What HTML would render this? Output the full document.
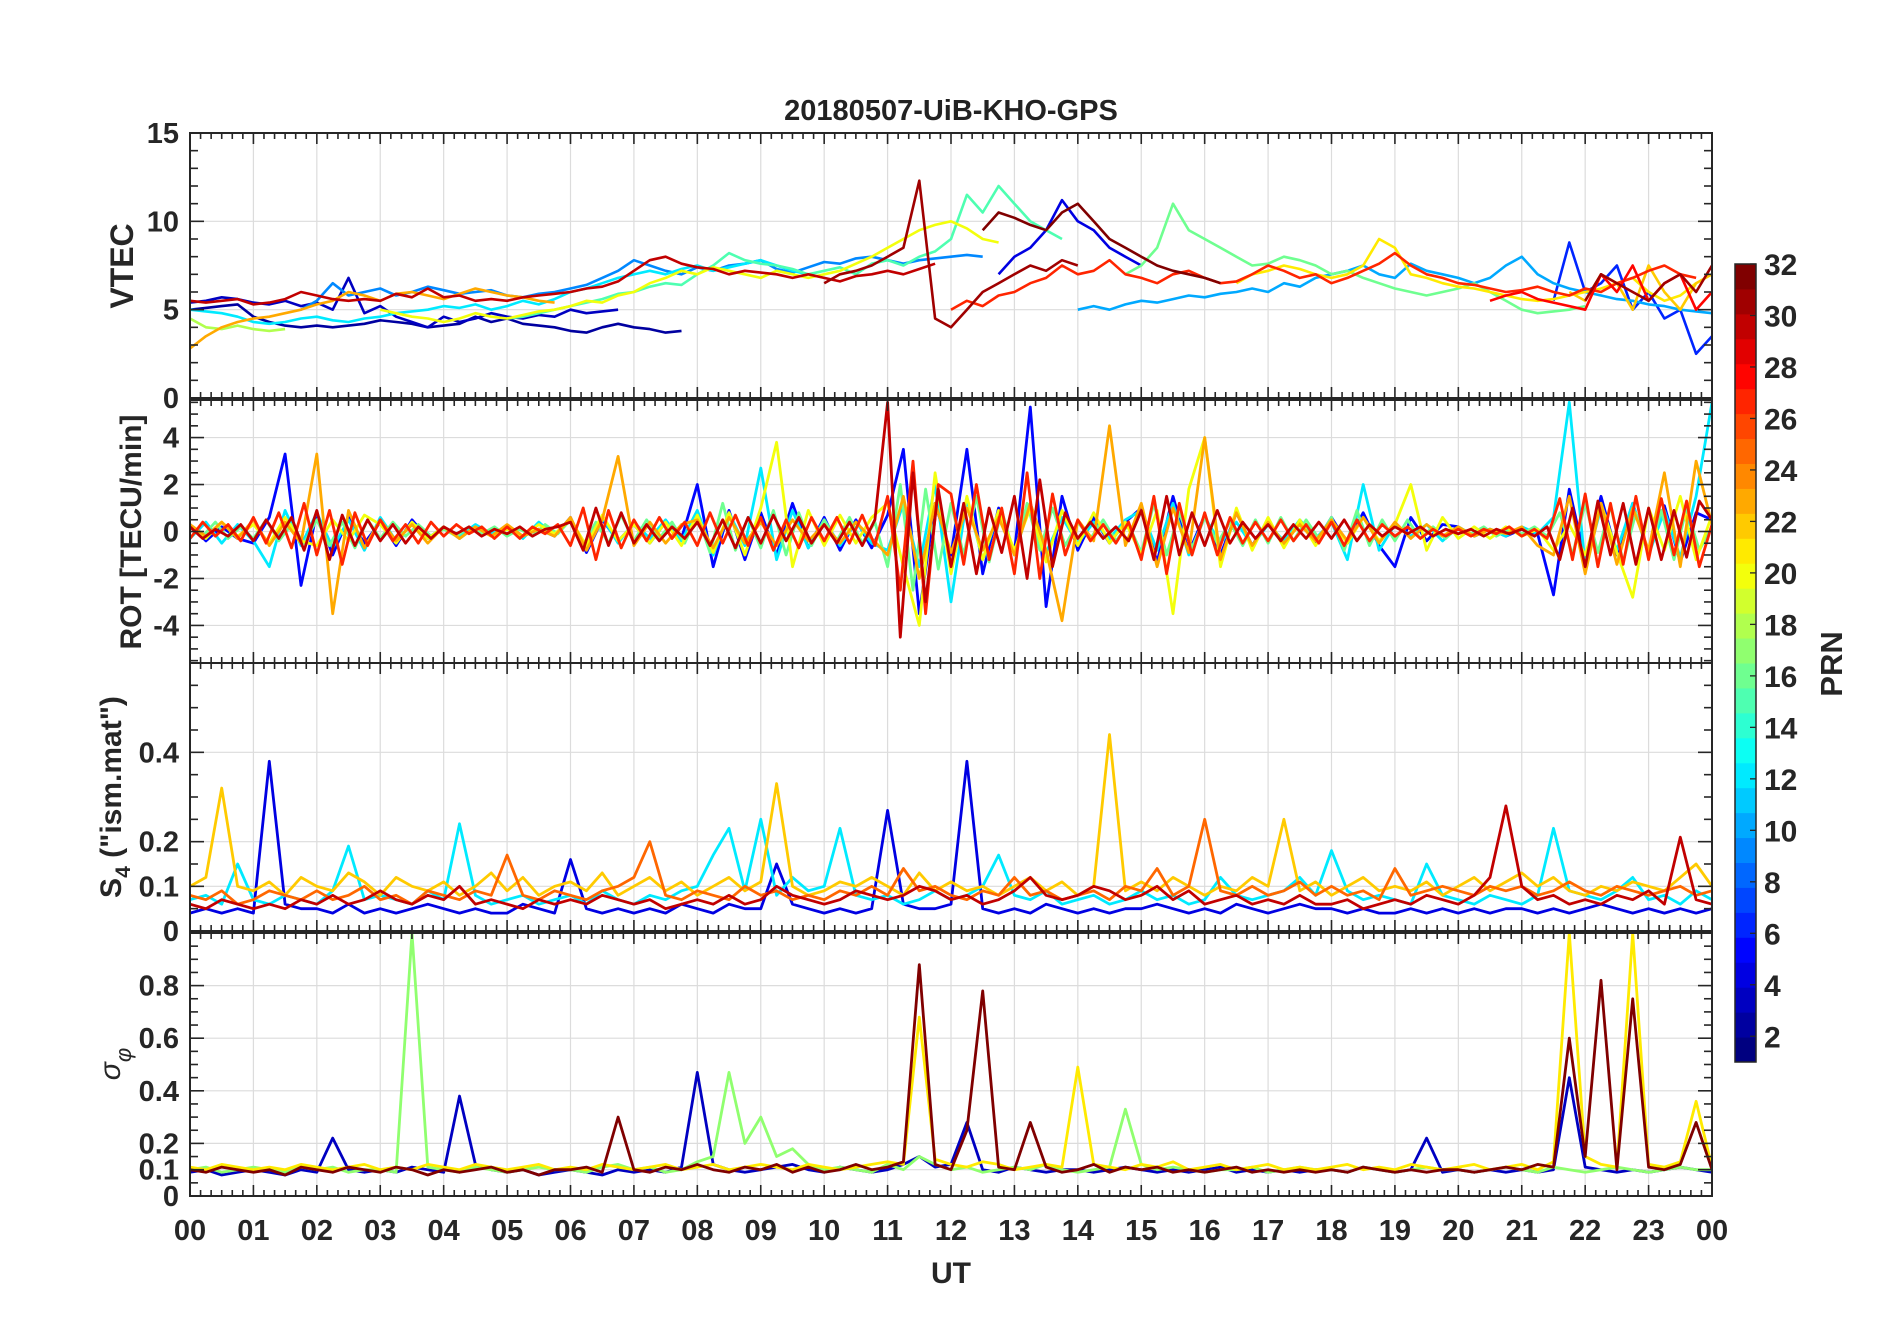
<!DOCTYPE html>
<html><head><meta charset="utf-8"><style>
html,body{margin:0;padding:0;background:#fff;}
svg{display:block;font-family:"Liberation Sans",Arial,sans-serif;}
</style></head><body>
<svg id="fig" width="1902" height="1330" viewBox="0 0 1902 1330" xmlns="http://www.w3.org/2000/svg">
<rect width="1902" height="1330" fill="#fff"/>
<text x="951" y="120" text-anchor="middle" font-size="29" font-weight="bold" fill="#222">20180507-UiB-KHO-GPS</text>
<g id="layer"></g>
</svg>
<script>
// ---------- data ----------
const hourLabels = ["00","01","02","03","04","05","06","07","08","09","10","11","12","13","14","15","16","17","18","19","20","21","22","23","00"];
const vtecTicks = [0,5,10,15];
const rotTicks = [-4,-2,0,2,4];
const s4Ticks = [0,0.1,0.2,0.4];
const sigTicks = [0,0.1,0.2,0.4,0.6,0.8];
const prnTicks = [2,4,6,8,10,12,14,16,18,20,22,24,26,28,30,32];

// VTEC passes: prn, start hour, values every 0.25 h
const vtecPrn = [3,2,30,23,12,18,9,20,15,31,32,4,27,10,16,21,28,6,22,31];
const vtecStart = [0,0,0,0,0,0,1.75,3,5,10,12.5,12.75,12,14,14.75,16.5,20.5,21.5,21.75,22];
const vtecVals = [
[5.4,5.5,5.7,5.6,5.4,5.3,5.5,5.2,5.4,5.0,6.8,4.8,5.2,4.6,4.3,4.0,4.6,4.3,4.5,4.8,4.6,4.5,4.7,4.6,5.0,4.8,4.9,5.0],
[5.0,5.1,5.2,5.3,4.6,4.3,4.1,4.0,4.1,4.0,4.1,4.2,4.4,4.3,4.2,4.0,4.1,4.2,4.6,4.3,4.5,4.2,4.1,4.0,3.8,3.7,4.0,4.2,4.0,3.9,3.7,3.8],
[5.5,5.4,5.5,5.6,5.3,5.4,5.6,6.0,5.8,5.6,5.5,5.6,5.5,5.9,5.7,6.2,5.7,5.8,5.5,5.6,5.5,5.7,5.8,5.9,6.0,6.2,6.3,6.6,7.2,7.8,8.0,7.6,7.4,7.3,7.0,7.2,7.1,7.0,6.8,7.0,6.8,6.6,6.9,7.0,7.2,7.0,7.3,7.6],
[2.8,3.5,4.0,4.3,4.5,4.6,4.8,5.0,5.3,5.5,6.0,5.8,5.5,5.9,6.0,5.8,5.6,5.9,6.2,6.0,5.8,5.7,5.5,5.4],
[5.0,4.9,4.8,4.6,4.3,4.2,4.3,4.5,4.6,4.4,4.3,4.5,4.6,4.8,4.9,5.0,5.2,5.1,5.3,5.0,5.2,5.5,5.3,5.6,6.0,6.2,6.5,6.8,7.0,7.2,7.0,7.3,7.5,7.2,7.4,7.6,7.8,7.5,7.2,7.0],
[4.5,4.0,3.9,4.1,3.9,3.8,3.9],
[5.0,5.5,6.5,5.8,6.0,6.2,5.8,6.0,6.3,6.1,5.9,6.0,6.1,5.8,5.7,5.9,6.0,6.2,6.4,6.8,7.2,7.8,7.5,7.2,7.0,7.4,7.2,7.5,7.6,7.8,7.3,7.1,7.4,7.7,7.6,7.9,8.0,7.8,7.6,7.8,7.9,8.0,8.1,8.0],
[5.0,4.8,4.6,4.5,4.3,4.5,4.8,4.6,4.5,4.7,4.9,5.0,5.2,5.5,5.4,5.8,6.0,6.5,6.8,7.2,7.0,7.4,7.2,7.0,6.8,7.2,7.0,6.8,7.0,7.2,7.6,8.0,8.5,9.0,9.5,9.8,10.0,9.6,9.0,8.8],
[4.5,4.6,4.8,5.0,5.2,5.4,5.6,5.9,6.0,6.3,6.5,6.4,7.0,7.5,8.2,7.8,7.6,7.5,7.3,7.0,7.2,7.4,7.0,7.6,7.8,7.5,8.0,8.3,9.0,11.5,10.5,12.0,11.0,10.0,9.5,9.0],
[6.5,7.0,7.2,7.5,8.0,8.5,12.3,4.5,4.0,5.0,6.0,6.5,7.0,7.5,7.2,7.8,7.5],
[9.5,10.5,10.2,9.8,9.5,10.5,11.0,10.0,9.0,8.5,8.0,7.5,7.2,7.0,6.8,6.5],
[7.0,8.0,8.5,9.5,11.2,10.0,9.5,8.5,8.0,7.5],
[5.0,5.5,5.2,5.8,6.0,6.5,6.8,7.5,7.0,7.2,7.8,7.0,6.8,6.5,7.0,7.2,6.8,6.5,6.6,7.0,7.5,7.2,6.8,7.0,6.5,6.8,7.2,7.6,8.2,7.5,7.0,6.8,6.5,6.4,6.2,6.0,6.1,6.3,6.0,5.8,6.2,6.0,6.5,6.8,7.2,7.5,7.0,6.8],
[5.0,5.2,5.0,5.3,5.5,5.4,5.6,5.8,5.7,5.9,6.0,6.2,6.0,6.5,6.3,6.8,7.0,7.2,7.5,7.0,6.8,7.6,7.2,7.0,6.8,6.5,6.8,7.5,8.0,7.0,6.5,6.2,6.0,5.8,5.6,5.5,5.3,5.2,5.0,4.9,4.8,4.7,5.0],
[7.0,7.5,8.5,11.0,9.5,9.0,8.5,8.0,7.5,7.6,8.0,7.8,7.5,7.0,7.2,6.8,6.5,6.2,6.0,5.8,6.0,6.2,6.5,6.0,5.5,5.0,4.8,4.9,5.0,5.2],
[6.5,7.0,7.2,7.5,7.3,7.0,6.8,7.0,7.5,9.0,8.5,7.0,6.8,6.5,6.3,6.2,6.0,5.8,5.6,5.5,5.6,5.8,6.0,6.2,6.5,6.8,6.0,5.5,5.8,6.5],
[5.5,5.8,6.0,5.6,5.4,5.2,5.0,7.0,6.0,7.5,5.5,6.5,7.0,5.0,6.0,7.5,6.5,5.5,6.0,7.2,6.8],
[5.5,8.8,6.0,6.5,7.5,5.0,6.0,4.5,5.0,2.5,3.5],
[6.0,5.5,7.0,6.5,5.0,7.5,6.0,5.0,6.5,7.0,6.0,8.0,6.5,5.0,3.0],
[5.5,7.0,6.5,6.0,5.5,6.5,7.0,6.0,7.5,6.5,6.8,7.5,7.2]
];

// ROT series: prn, step, values
const rotPrn = [5,12,16,20,23,27,30];
const rotStep = [0.25,0.25,0.2,0.25,0.25,0.2,0.2];
const rotVals = [
[0.3,-0.4,0.2,-0.3,-0.5,0.6,3.3,-2.3,0.8,-1.0,0.6,-0.5,0.4,-0.6,0.5,-0.3,0.2,-0.3,0.2,-0.1,0.2,-0.2,0.1,-0.2,0.6,-0.9,0.5,-0.4,0.3,-0.5,0.4,-0.3,2.0,-1.5,0.9,-1.2,0.8,-1.0,1.2,-0.7,0.6,-0.8,0.5,-0.7,0.7,3.5,-3.5,1.2,-1.0,3.5,-1.8,1.0,-0.9,5.3,-3.2,1.5,-0.8,0.6,-0.5,0.4,1.0,-1.3,1.5,-0.9,0.7,-1.0,0.8,-0.6,0.5,-0.6,0.4,-0.5,0.6,-0.5,0.8,-0.6,-1.5,0.6,-0.4,0.3,0.2,-0.2,0.1,-0.2,0.1,-0.1,-2.7,1.8,-1.2,1.5,-1.0,1.2,-0.9,1.1,-1.3,0.8,0.5],
[-0.3,0.4,-0.5,0.3,-0.4,-1.5,0.9,-0.6,0.8,-0.7,0.5,-0.8,0.6,-0.4,0.3,-0.3,0.2,-0.2,0.3,-0.1,0.2,-0.3,0.4,-0.2,0.5,-0.7,0.6,-0.5,0.4,-0.3,0.5,-0.4,0.9,-1.0,0.8,-0.6,2.7,-1.2,0.9,-0.7,0.5,-0.6,0.4,-0.5,-0.8,1.2,-1.5,2.0,-3.0,1.4,-1.2,0.8,-1.0,1.2,-0.9,0.6,-0.5,0.4,-0.3,0.5,0.9,-0.8,1.2,-1.0,0.6,-0.5,0.4,-0.6,0.3,-0.4,0.5,-0.3,0.4,-1.2,2.0,-0.8,0.3,-0.2,0.3,-0.4,0.2,-0.2,0.1,-0.2,0.2,-0.1,0.6,5.5,-1.5,1.0,-0.8,1.2,-1.0,0.9,-1.1,1.5,5.5],
[0.3,-0.2,0.4,-0.3,0.2,-0.3,0.5,-0.4,0.3,-0.5,0.5,-0.6,0.4,-0.7,0.5,-0.3,0.4,-0.2,0.3,-0.2,0.1,-0.2,0.2,-0.1,0.2,-0.2,0.1,-0.2,0.3,-0.1,0.5,-0.6,0.4,-0.5,0.7,-0.4,0.5,-0.3,0.4,-0.5,0.7,-0.9,1.2,-0.8,0.6,-0.7,0.9,-1.0,0.8,-0.6,0.5,-0.4,0.6,-0.5,0.4,-1.5,2.0,-2.5,1.8,-1.6,1.2,-1.0,1.5,-1.3,0.9,-1.0,1.2,-0.8,1.0,-0.6,0.4,-0.3,0.5,-0.4,0.3,-0.9,1.2,-1.0,0.8,-0.7,0.6,-0.5,0.4,-0.6,0.5,-0.5,0.6,-0.4,0.5,-0.3,0.6,-0.8,0.9,-0.6,0.5,-0.4,0.5,-0.3,0.2,-0.3,0.2,-0.1,0.2,-0.2,0.1,-0.1,0.2,-0.2,0.8,-1.0,1.2,-0.9,1.1,-1.3,0.8,-1.0,0.9,-1.2,1.0,-0.8,0.2],
[0.2,-0.3,0.4,-0.2,0.3,-0.5,0.6,-0.4,-0.6,0.5,-0.4,0.7,0.3,-0.5,0.4,-0.3,0.2,-0.3,0.2,-0.2,0.1,-0.2,0.3,-0.1,0.5,-0.6,0.7,-0.4,0.3,-0.5,0.4,-0.6,0.7,-0.9,0.8,-1.0,1.0,3.8,-1.5,0.9,-0.6,0.7,-0.5,0.6,1.2,-1.5,-4.0,2.5,-1.8,1.5,-1.2,0.9,-0.8,1.0,-1.3,0.9,-0.6,0.8,-0.5,0.4,-1.0,0.9,-3.5,1.8,4.0,-1.5,1.0,-0.8,0.6,-0.7,0.5,-0.6,0.4,-0.5,0.6,-0.4,0.3,2.0,-0.8,0.6,-0.3,0.2,-0.3,0.2,-0.2,0.1,-0.8,0.3,-1.0,1.2,-0.9,-2.8,1.0,-0.8,1.5,-1.2,0.7],
[0.3,-0.2,0.4,-0.3,0.5,-0.6,0.4,-0.5,3.3,-3.5,0.9,-0.7,0.5,-0.4,0.3,-0.5,0.2,-0.3,0.2,-0.2,0.3,-0.2,0.1,-0.2,0.6,-0.8,0.5,3.2,-0.6,0.4,-0.5,0.3,0.5,-0.7,0.6,-0.5,0.4,-0.6,0.5,-0.4,0.3,-0.5,0.4,-0.3,-1.0,1.5,-2.0,1.2,-0.9,1.0,-0.8,0.6,-1.0,1.2,-0.8,-3.8,0.5,-0.4,4.5,-0.6,1.2,-1.5,1.0,-0.9,4.0,-1.2,0.8,-0.6,0.4,-0.5,0.3,-0.4,0.5,-0.4,0.6,-0.5,0.4,-0.3,0.3,-0.2,0.2,-0.2,0.1,-0.1,0.2,-0.6,-1.0,1.5,-1.8,1.2,-1.4,1.0,-0.8,2.5,-1.5,3.0,0.3],
[-0.3,0.4,-0.2,0.3,-0.4,0.6,-0.5,0.8,-0.7,1.2,-1.0,0.9,-1.4,0.8,-0.6,0.5,-0.4,0.3,-0.5,0.4,-0.2,0.3,-0.1,0.2,-0.3,0.2,-0.3,0.2,-0.1,0.3,-0.6,1.0,-1.2,0.9,-0.7,0.5,-0.4,0.6,-0.3,0.4,-0.6,0.8,-0.5,0.7,-0.6,0.6,-0.8,0.5,-0.7,0.6,-0.4,0.6,-0.5,0.7,-0.6,1.5,-2.5,3.0,-3.5,2.0,1.6,-1.4,2.0,-1.2,1.0,-1.8,2.5,-2.0,1.6,-1.0,0.5,-0.4,0.3,-0.5,0.4,-1.2,1.5,-1.8,1.2,-1.0,0.8,-1.0,0.6,-0.5,0.4,-0.4,0.5,-0.4,0.3,-0.5,0.4,-0.6,0.5,-0.4,0.3,-0.2,0.2,-0.3,0.1,-0.2,0.1,-0.2,0.1,-0.1,0.2,-0.2,0.1,-0.3,1.4,-1.2,1.6,-1.5,1.2,-1.4,1.5,-1.2,1.4,-1.0,1.3,-1.5,0.3],
[0.2,-0.3,0.1,-0.2,0.3,-0.4,0.5,-0.3,0.6,-0.8,0.9,-1.2,0.7,-0.6,0.5,-0.4,0.3,-0.5,0.2,-0.3,0.2,-0.1,0.2,-0.2,0.1,-0.1,0.2,-0.2,0.1,0.2,0.4,-0.8,1.0,-0.6,0.8,-0.5,0.3,-0.4,0.2,-0.3,0.4,-0.6,0.5,-0.7,0.6,-0.5,0.7,-0.4,0.6,-0.5,0.3,-0.5,0.4,-0.6,0.5,5.5,-4.5,2.5,-3.0,1.8,-1.5,1.2,-1.8,1.0,-0.9,1.5,-2.0,2.2,-1.5,0.8,-0.3,0.4,-0.3,0.2,-0.4,0.9,-1.2,1.5,-1.0,0.8,-0.6,0.9,-0.5,0.4,-0.3,0.3,-0.4,0.3,-0.3,0.4,-0.3,0.5,-0.4,0.3,-0.2,0.2,-0.1,0.2,-0.2,0.1,-0.1,0.1,-0.2,0.1,-0.1,0.1,-0.2,0.2,-1.2,1.0,-1.5,1.3,-1.0,1.2,-1.4,1.0,-1.2,0.9,-1.1,1.3,0.5]
];

// S4 series: full day, every 0.25 h
const s4Prn = [4,12,22,25,30];
const s4Vals = [
[.04,.05,.04,.05,.04,.38,.06,.05,.05,.04,.06,.04,.05,.04,.05,.06,.05,.04,.05,.04,.04,.06,.05,.04,.16,.05,.04,.05,.04,.05,.04,.06,.05,.04,.06,.05,.05,.15,.06,.05,.04,.05,.04,.05,.27,.06,.05,.05,.06,.38,.05,.04,.05,.04,.06,.05,.04,.05,.04,.05,.05,.06,.05,.04,.05,.04,.06,.05,.04,.05,.06,.05,.05,.04,.05,.04,.04,.05,.04,.05,.04,.05,.04,.05,.05,.04,.05,.04,.05,.06,.05,.04,.05,.04,.05,.04,.05],
[.07,.08,.06,.15,.07,.06,.08,.07,.06,.09,.19,.07,.08,.07,.06,.09,.07,.24,.08,.06,.07,.08,.06,.07,.08,.06,.09,.07,.06,.08,.07,.09,.10,.17,.23,.09,.25,.08,.12,.09,.10,.23,.08,.07,.08,.06,.07,.09,.07,.08,.10,.17,.08,.07,.09,.06,.07,.08,.06,.07,.09,.07,.08,.06,.07,.12,.08,.07,.08,.09,.12,.08,.18,.09,.07,.08,.07,.06,.15,.08,.07,.06,.08,.07,.06,.08,.23,.09,.08,.07,.09,.12,.07,.08,.06,.09,.07],
[.10,.12,.32,.10,.09,.11,.08,.12,.10,.09,.13,.11,.08,.12,.10,.09,.11,.08,.10,.13,.09,.12,.08,.10,.11,.09,.13,.08,.10,.12,.09,.11,.08,.10,.12,.09,.11,.33,.10,.08,.09,.11,.10,.12,.10,.08,.13,.09,.11,.09,.10,.08,.10,.12,.09,.11,.08,.10,.44,.09,.11,.09,.12,.10,.08,.10,.09,.12,.10,.25,.09,.11,.08,.10,.12,.09,.10,.09,.11,.08,.10,.12,.09,.11,.13,.10,.12,.09,.08,.10,.09,.11,.10,.09,.12,.15,.10],
[.08,.07,.09,.06,.07,.09,.08,.07,.09,.07,.08,.10,.07,.08,.06,.09,.08,.07,.09,.08,.17,.08,.07,.09,.08,.07,.09,.10,.12,.20,.08,.07,.09,.08,.07,.10,.08,.09,.07,.08,.07,.09,.08,.10,.08,.14,.09,.10,.08,.07,.09,.08,.12,.08,.09,.07,.08,.09,.07,.10,.09,.14,.08,.10,.25,.09,.08,.10,.08,.09,.11,.08,.10,.08,.09,.07,.14,.08,.09,.10,.09,.08,.10,.09,.10,.08,.09,.11,.09,.08,.10,.09,.08,.09,.10,.08,.09],
[.06,.05,.07,.06,.05,.06,.05,.07,.06,.08,.06,.07,.09,.07,.06,.08,.07,.10,.06,.07,.06,.05,.07,.06,.07,.06,.08,.07,.06,.07,.05,.06,.07,.06,.08,.06,.07,.10,.08,.07,.06,.07,.09,.08,.07,.08,.10,.09,.07,.08,.06,.07,.09,.12,.08,.07,.08,.10,.09,.07,.08,.10,.07,.09,.06,.07,.08,.06,.07,.06,.08,.06,.06,.07,.05,.06,.07,.06,.08,.07,.06,.08,.12,.28,.10,.07,.08,.06,.07,.06,.08,.07,.09,.06,.21,.07,.06]
];

// sigma-phi series: full day, every 0.25 h
const sigPrn = [3,17,21,32];
const sigVals = [
[.09,.10,.08,.09,.10,.09,.08,.10,.09,.22,.10,.09,.10,.09,.11,.10,.09,.38,.12,.10,.09,.10,.08,.09,.10,.09,.08,.10,.09,.10,.09,.11,.47,.12,.10,.09,.10,.11,.12,.10,.09,.11,.10,.09,.10,.12,.15,.11,.12,.28,.10,.09,.11,.10,.09,.10,.10,.09,.10,.11,.10,.09,.10,.09,.10,.11,.09,.10,.09,.10,.09,.10,.10,.09,.11,.10,.09,.10,.22,.09,.10,.09,.10,.09,.10,.09,.10,.45,.11,.10,.09,.10,.09,.10,.11,.10,.09],
[.10,.11,.09,.10,.11,.10,.09,.11,.10,.11,.09,.10,.10,.09,1.0,.11,.10,.09,.11,.10,.09,.10,.11,.10,.10,.09,.11,.12,.10,.11,.09,.10,.13,.15,.47,.20,.30,.15,.18,.12,.10,.11,.10,.09,.12,.10,.15,.12,.10,.11,.09,.10,.11,.10,.12,.10,.09,.10,.11,.33,.12,.10,.11,.10,.09,.10,.10,.11,.09,.10,.11,.10,.10,.09,.11,.10,.09,.10,.11,.10,.10,.09,.10,.11,.10,.09,.11,.10,.09,.10,.11,.10,.09,.10,.11,.10,.10],
[.11,.10,.12,.11,.10,.11,.10,.12,.11,.10,.11,.12,.10,.11,.10,.12,.11,.10,.12,.11,.10,.11,.12,.10,.11,.10,.12,.11,.10,.11,.12,.10,.11,.12,.10,.11,.12,.11,.10,.12,.11,.10,.11,.12,.13,.12,.68,.14,.12,.11,.13,.12,.10,.11,.12,.11,.49,.12,.11,.10,.12,.11,.13,.10,.11,.12,.10,.11,.12,.10,.11,.10,.11,.12,.10,.11,.10,.12,.11,.10,.11,.12,.10,.11,.12,.10,.13,1.0,.15,.12,.11,1.0,.12,.11,.13,.36,.11],
[.10,.09,.11,.10,.09,.10,.08,.11,.10,.09,.11,.10,.09,.11,.10,.08,.10,.09,.10,.11,.09,.10,.08,.10,.10,.11,.09,.30,.10,.09,.11,.10,.12,.10,.09,.11,.10,.12,.09,.11,.09,.10,.12,.10,.11,.13,.88,.12,.10,.25,.78,.11,.10,.28,.11,.09,.10,.12,.09,.11,.10,.11,.09,.10,.09,.10,.11,.09,.10,.09,.10,.09,.10,.09,.11,.10,.09,.10,.09,.10,.10,.09,.10,.11,.10,.12,.11,.60,.15,.82,.10,.75,.11,.10,.12,.28,.10]
];

// ---------- helpers ----------
const NS = "http://www.w3.org/2000/svg";
const layer = document.getElementById('layer');
const X0 = 190, X1 = 1712;
const xS = t => X0 + t / 24 * (X1 - X0);
function jet(prn){
  const x = (prn - 1) / 31;
  const c = v => Math.round(255 * Math.max(0, Math.min(1, v)));
  return `rgb(${c(1.5-Math.abs(4*x-3))},${c(1.5-Math.abs(4*x-2))},${c(1.5-Math.abs(4*x-1))})`;
}
function mk(tag, attrs, parent){
  const e = document.createElementNS(NS, tag);
  for (const k in attrs) e.setAttribute(k, attrs[k]);
  (parent || layer).appendChild(e);
  return e;
}
const panels = [
  {key:'vtec', top:133, bot:398, min:0, max:15, ticks:vtecTicks, minor:1},
  {key:'rot', top:400, bot:663, min:-5.6, max:5.6, ticks:rotTicks, minor:0.5},
  {key:'s4', top:663, bot:931, min:0, max:0.6, ticks:s4Ticks, minor:0.05},
  {key:'sig', top:933, bot:1196, min:0, max:1, ticks:sigTicks, minor:0.05}
];
panels.forEach(p => { p.y = v => p.bot - (v - p.min) / (p.max - p.min) * (p.bot - p.top); });

function drawAxes(p){
  const g = mk('g', {});
  
  
  for (let h = 1; h < 24; h++) mk('line', {x1:xS(h), x2:xS(h), y1:p.top, y2:p.bot, stroke:'#dcdcdc', 'stroke-width':1.2}, g);
  p.ticks.forEach(v => { if (v > p.min && v < p.max) mk('line', {x1:X0, x2:X1, y1:p.y(v), y2:p.y(v), stroke:'#dcdcdc', 'stroke-width':1.2}, g); });
  const cp = mk('clipPath', {id:'clip-' + p.key});
  mk('rect', {x:X0, y:p.top, width:X1 - X0, height:p.bot - p.top}, cp);
}
function drawFrame(p){
  const g = mk('g', {});
  
  
  mk('rect', {x:X0, y:p.top, width:X1 - X0, height:p.bot - p.top, fill:'none', stroke:'#262626', 'stroke-width':2}, g);
  for (let m = 0; m <= 144; m++) {
    const x = xS(m / 6), L = m % 6 === 0 ? 11 : 6;
    mk('line', {x1:x, x2:x, y1:p.bot, y2:p.bot - L, stroke:'#262626', 'stroke-width':1.6}, g);
    mk('line', {x1:x, x2:x, y1:p.top, y2:p.top + L, stroke:'#262626', 'stroke-width':1.6}, g);
  }
  const start = Math.ceil(p.min / p.minor - 1e-6);
  for (let k = start; k * p.minor <= p.max + 1e-9; k++) {
    const v = k * p.minor;
    const major = p.ticks.some(t => Math.abs(t - v) < 1e-6);
    const L = major ? 14 : 8, y = p.y(v);
    mk('line', {x1:X0, x2:X0 + L, y1:y, y2:y, stroke:'#262626', 'stroke-width':1.6}, g);
    mk('line', {x1:X1, x2:X1 - L, y1:y, y2:y, stroke:'#262626', 'stroke-width':1.6}, g);
  }
  p.ticks.forEach(v => {
    const t = mk('text', {x:179, y:p.y(v) + 10, 'text-anchor':'end', 'font-size':29, 'font-weight':'bold', fill:'#262626'}, g);
    
    
    t.textContent = String(v);
  });
}
function line(p, prn, t0, step, vals, name, w){
  const pts = vals.map((v, i) => xS(t0 + i * step).toFixed(1) + ',' + p.y(v).toFixed(1)).join(' ');
  const pl = mk('polyline', {points:pts, fill:'none', stroke:jet(prn), 'stroke-width':w, 'stroke-linejoin':'round', 'clip-path':'url(#clip-' + p.key + ')'});
  
  
}

panels.forEach(drawAxes);
const order = a => a.map((prn, i) => i).sort((i, j) => a[i] - a[j]);
order(vtecPrn).forEach(i => line(panels[0], vtecPrn[i], vtecStart[i], 0.25, vtecVals[i], 'vtec-prn' + vtecPrn[i], 2.6));
order(rotPrn).forEach(i => line(panels[1], rotPrn[i], 0, rotStep[i], rotVals[i], 'rot-prn' + rotPrn[i], 2.8));
order(s4Prn).forEach(i => line(panels[2], s4Prn[i], 0, 0.25, s4Vals[i], 's4-prn' + s4Prn[i], 2.8));
order(sigPrn).forEach(i => line(panels[3], sigPrn[i], 0, 0.25, sigVals[i], 'sigma-prn' + sigPrn[i], 2.8));
panels.forEach(drawFrame);

hourLabels.forEach((lab, h) => {
  const t = mk('text', {x:xS(h), y:1240, 'text-anchor':'middle', 'font-size':29, 'font-weight':'bold', fill:'#262626'});
  
  
  t.textContent = lab;
});
const ut = mk('text', {x:951, y:1283, 'text-anchor':'middle', 'font-size':30, 'font-weight':'bold', fill:'#262626'});


ut.textContent = 'UT';

function ytitle(x, y, txt, name, fs){
  const t = mk('text', {x:x, y:y, 'text-anchor':'middle', 'font-size':fs, 'font-weight':'bold', fill:'#262626', transform:`rotate(-90 ${x} ${y})`});
  
  
  t.innerHTML = txt;
}
ytitle(133, 266, 'VTEC', 'vtec-axis-title', 32);
ytitle(141, 532, 'ROT [TECU/min]', 'rot-axis-title', 30);
ytitle(121, 797, 'S<tspan font-size="21" dy="9">4</tspan><tspan dy="-9"> ("ism.mat")</tspan>', 's4-axis-title', 30);
ytitle(120, 1064, '<tspan font-style="italic" font-weight="normal">σ</tspan><tspan font-size="22" dy="11" font-style="italic" font-weight="normal">φ</tspan>', 'sigma-axis-title', 30);

const cb = mk('g', {});


const CB0 = 264, CB1 = 1062, CX = 1735, CW = 21;
for (let k = 1; k <= 32; k++) {
  const h = (CB1 - CB0) / 32;
  mk('rect', {x:CX, y:CB1 - k * h, width:CW, height:h + 0.5, fill:jet(k)}, cb);
}
mk('rect', {x:CX, y:CB0, width:CW, height:CB1 - CB0, fill:'none', stroke:'#262626', 'stroke-width':1.5}, cb);
prnTicks.forEach(v => {
  const y = CB1 - (v - 1) / 31 * (CB1 - CB0);
  mk('line', {x1:CX + CW, x2:CX + CW - 6, y1:y, y2:y, stroke:'#262626', 'stroke-width':1.3}, cb);
  const t = mk('text', {x:1764, y:y + 11, 'font-size':30, 'font-weight':'bold', fill:'#262626'}, cb);
  
  
  t.textContent = String(v);
});
const prnT = mk('text', {x:1842, y:664, 'text-anchor':'middle', 'font-size':31, 'font-weight':'bold', fill:'#262626', transform:'rotate(-90 1842 664)'}, cb);


prnT.textContent = 'PRN';
</script>
</body></html>
